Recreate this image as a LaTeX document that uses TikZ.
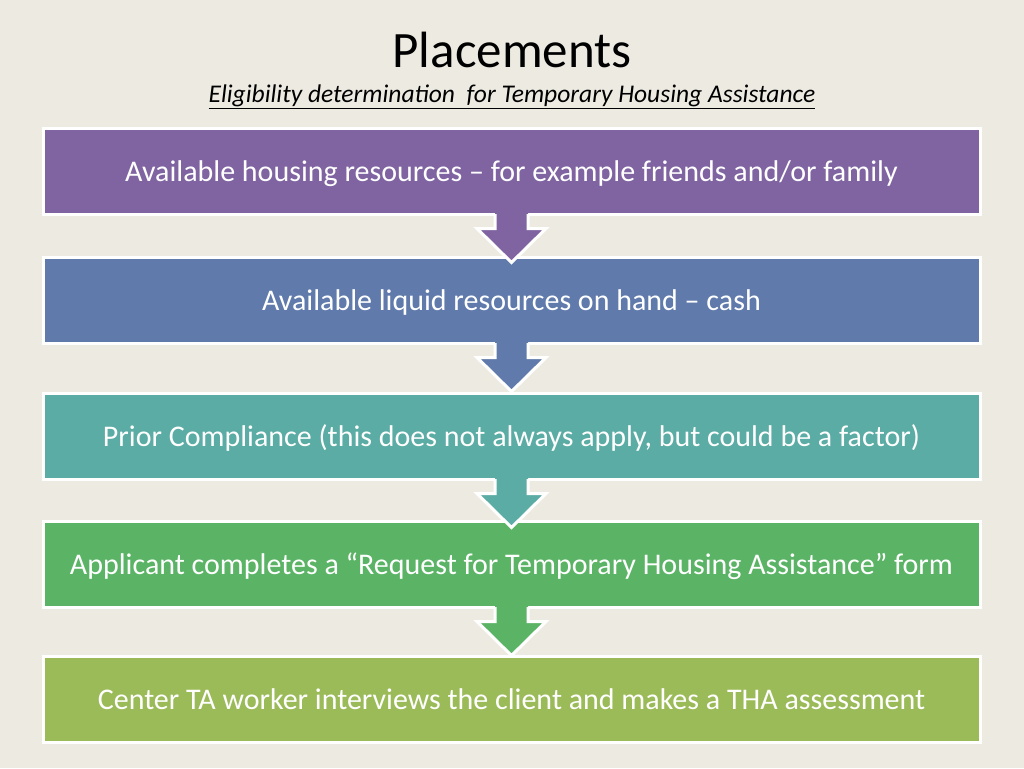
\documentclass[tikz,border=0pt]{standalone}
\usepackage{fontspec}
\setmainfont{Carlito}
\usepackage{xcolor}
\usetikzlibrary{positioning, calc, shadows}

\definecolor{slidebg}{HTML}{EDEBE1}
\definecolor{hcolA}{HTML}{8064A2}
\definecolor{hcolB}{HTML}{5F7AAB}
\definecolor{hcolC}{HTML}{5AACA4}
\definecolor{hcolD}{HTML}{5BB466}
\definecolor{hcolE}{HTML}{9BBB59}

\begin{document}
\begin{tikzpicture}[
  x=1pt, y=-1pt,
  stepbox/.style={
    draw=white, line width=3pt, text=white, align=center,
    minimum width=937pt, minimum height=86pt,
    text height=25pt, text depth=5pt,
    font=\fontsize{30}{36}\selectfont,
    drop shadow={shadow xshift=2pt, shadow yshift=-2pt, opacity=0.25, fill=black!60}
  },
  flowarrow/.style={draw=white, line width=3pt, line join=miter}
]

% slide background
\fill[slidebg] (0,0) rectangle (1024,768);

\node[font=\fontsize{51}{58}\selectfont] (title) at (512,50) {Placements};
\node[font=\fontsize{25.5}{30}\selectfont\itshape] (subtitle) at (512,97)
  {\underline{Eligibility determination\ \ for Temporary Housing Assistance}};

\node[stepbox, fill=hcolA] (housing) at (511.5,171)
  {Available housing resources -- for example friends and/or family};
\node[stepbox, fill=hcolB, below=40pt of housing] (liquid)
  {Available liquid resources on hand -- cash};
\node[stepbox, fill=hcolC, below=47pt of liquid] (compliance)
  {Prior Compliance (this does not always apply, but could be a factor)};
\node[stepbox, fill=hcolD, below=39pt of compliance] (request)
  {Applicant completes a ``Request for Temporary Housing Assistance'' form};
\node[stepbox, fill=hcolE, below=46pt of request] (interview)
  {Center TA worker interviews the client and makes a THA assessment};

% down arrows between the steps
\foreach \src/\col in {housing/hcolA, liquid/hcolB, compliance/hcolC, request/hcolD} {
  \fill[\col] ([shift={(-16.5,-4)}]\src.south) -- ++(0,17) -- ++(-18,0)
    -- ++(34.5,34) -- ++(34.5,-34) -- ++(-18,0) -- ++(0,-17) -- cycle;
  \draw[flowarrow] ([shift={(-16.5,-1.5)}]\src.south) -- ++(0,14.5) -- ++(-18,0)
    -- ++(34.5,34) -- ++(34.5,-34) -- ++(-18,0) -- ++(0,-14.5);
}

\end{tikzpicture}
\end{document}
